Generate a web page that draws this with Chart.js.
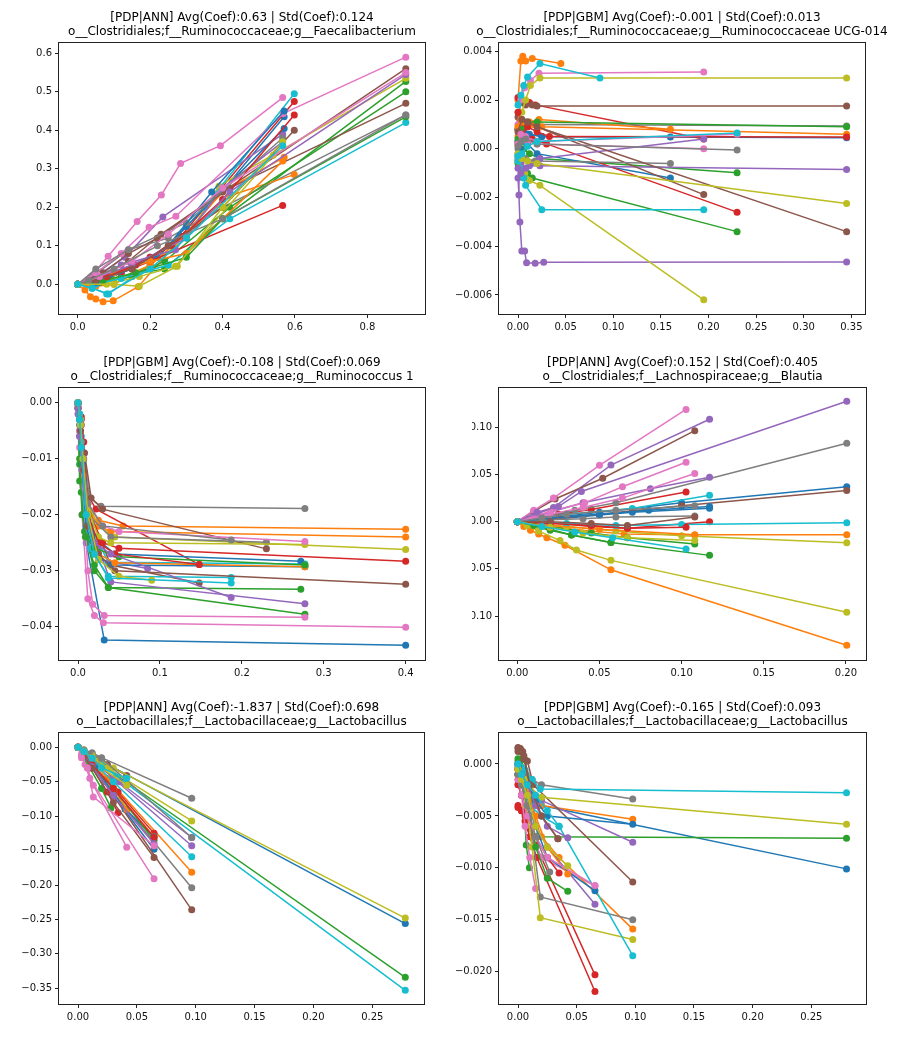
<!DOCTYPE html>
<html><head><meta charset="utf-8">
<script src="https://cdn.jsdelivr.net/npm/chart.js@4.4.0/dist/chart.umd.min.js"></script>
<style>
html,body{margin:0;padding:0;background:#fff;}
body{width:913px;height:1044px;position:relative;overflow:hidden;}
canvas{position:absolute;}
</style></head><body>
<canvas id="c1"></canvas><canvas id="c2"></canvas><canvas id="c3"></canvas>
<canvas id="c4"></canvas><canvas id="c5"></canvas><canvas id="c6"></canvas>
<script>
const palette = ['#1f77b4','#ff7f0e','#2ca02c','#d62728','#9467bd','#8c564b','#e377c2','#7f7f7f','#bcbd22','#17becf'];

// ---------- Panel 1: [PDP|ANN] Faecalibacterium ----------
const p1Title = ['[PDP|ANN] Avg(Coef):0.63 | Std(Coef):0.124', 'o__Clostridiales;f__Ruminococcaceae;g__Faecalibacterium'];
const p1X = [
 [0,0.03,0.09,0.2,0.3,0.57],[0,0.02,0.035,0.05,0.07,0.098,0.167,0.4,0.57],[0,0.05,0.12,0.24,0.4,0.906],[0,0.04,0.1,0.2,0.285,0.598],[0,0.05,0.13,0.235,0.566],
 [0,0.06,0.14,0.23,0.4,0.906],[0,0.05,0.084,0.164,0.231,0.284,0.394,0.566],[0,0.04,0.14,0.25,0.4,0.906],[0,0.1,0.2,0.3,0.39,0.906],[0,0.04,0.085,0.2,0.35,0.598],
 [0,0.04,0.12,0.22,0.3,0.57],[0,0.05,0.1,0.2,0.42,0.598],[0,0.06,0.15,0.24,0.42,0.906],[0,0.05,0.12,0.2,0.566],[0,0.04,0.12,0.27,0.4,0.566],
 [0,0.07,0.14,0.22,0.42,0.906],[0,0.05,0.12,0.197,0.271,0.568,0.906],[0,0.05,0.14,0.3,0.566],[0,0.08,0.17,0.27,0.54],[0,0.05,0.12,0.25,0.42,0.906],
 [0,0.05,0.15,0.25,0.37,0.57],[0,0.1,0.2,0.3,0.566],[0,0.07,0.16,0.3,0.4,0.906],[0,0.08,0.16,0.26,0.4,0.598],[0,0.06,0.15,0.3,0.42,0.906],
 [0,0.05,0.15,0.25,0.4,0.598],[0,0.06,0.15,0.25,0.4,0.906],[0,0.03,0.1,0.22,0.4,0.906],[0,0.1,0.17,0.275,0.4,0.566],[0,0.04,0.08,0.2,0.3,0.566]
];
const p1Y = [
 [0,0.004,0.02,0.07,0.13,0.435],[0,-0.015,-0.032,-0.038,-0.045,-0.043,-0.006,0.24,0.33],[0,0.005,0.02,0.04,0.17,0.527],[0,0.01,0.03,0.07,0.125,0.475],[0,0.02,0.07,0.175,0.39],
 [0,0.02,0.06,0.13,0.24,0.56],[0,0.035,0.073,0.163,0.232,0.314,0.36,0.485],[0,0.02,0.09,0.12,0.2,0.44],[0,0.01,0.05,0.12,0.255,0.535],[0,-0.01,-0.025,0.05,0.2,0.495],
 [0,0,0.03,0.07,0.15,0.405],[0,-0.005,0,0.05,0.23,0.285],[0,0.005,0.02,0.06,0.2,0.5],[0,0.01,0.03,0.06,0.205],[0,0.015,0.05,0.09,0.25,0.37],
 [0,0.03,0.08,0.12,0.25,0.47],[0,0.03,0.08,0.148,0.177,0.444,0.59],[0,0.04,0.09,0.16,0.38],[0,0,0.02,0.047,0.335],[0,0,0.015,0.05,0.17,0.42],
 [0,0.005,0.04,0.1,0.24,0.45],[0,0.03,0.06,0.08,0.32],[0,0.01,0.03,0.07,0.17,0.435],[0,0.02,0.05,0.1,0.22,0.44],[0,0.02,0.05,0.12,0.24,0.545],
 [0,0.01,0.04,0.1,0.2,0.4],[0,0.02,0.06,0.13,0.25,0.55],[0,0.01,0.04,0.1,0.17,0.44],[0,0,-0.005,0.047,0.2,0.37],[0,-0.01,-0.025,0.04,0.12,0.36]
];

// ---------- Panel 2: [PDP|GBM] Ruminococcaceae UCG-014 ----------
const p2Title = ['[PDP|GBM] Avg(Coef):-0.001 | Std(Coef):0.013', 'o__Clostridiales;f__Ruminococcaceae;g__Ruminococcaceae UCG-014'];
const p2X = [
 [0,0.002,0.006,0.012,0.025,0.16],[0,0.003,0.005,0.008,0.015,0.045],[0,0.003,0.006,0.012,0.023,0.23],[0,0.002,0.005,0.012,0.018,0.195],[0,0.001,0.002,0.004,0.007,0.009,0.018,0.027,0.345],
 [0,0.003,0.008,0.015,0.02,0.345],[0,0.003,0.007,0.013,0.022,0.195],[0,0.004,0.01,0.02,0.345],[0,0.004,0.008,0.013,0.023,0.345],[0,0.003,0.006,0.01,0.023,0.086],
 [0,0.002,0.005,0.01,0.02,0.16],[0,0.003,0.006,0.012,0.022,0.16],[0,0.002,0.005,0.01,0.015,0.23],[0,0.003,0.008,0.015,0.03,0.23],[0,0.003,0.008,0.012,0.023,0.345],
 [0,0.004,0.01,0.02,0.195],[0,0.004,0.01,0.02,0.195],[0,0.003,0.008,0.018,0.16],[0,0.003,0.007,0.012,0.023,0.195],[0,0.003,0.006,0.008,0.025,0.195],
 [0,0.004,0.01,0.025,0.345],[0,0.003,0.007,0.015,0.025,0.345],[0,0.004,0.01,0.02,0.345],[0,0.004,0.01,0.02,0.033,0.345],[0,0.003,0.008,0.013,0.023,0.195],
 [0,0.004,0.01,0.02,0.345],[0,0.003,0.008,0.02,0.23],[0,0.003,0.008,0.02,0.23],[0,0.004,0.01,0.02,0.345],[0,0.004,0.01,0.02,0.23]
];
const p2Y = [
 [0.0008,0.0012,0.0008,0.0006,0.0005,0.00048],[0.002,0.0036,0.0038,0.0036,0.0037,0.0035],[-0.0005,-0.0003,0,-0.0002,-0.0004,-0.00098],[0.0021,0.002,0.0019,0.0019,0.0018,0.0004],[-0.0012,-0.0019,-0.003,-0.0042,-0.0042,-0.00468,-0.0047,-0.00466,-0.00465],
 [0.0013,0.0019,0.0018,0.0018,0.00175,0.00175],[0.001,0.002,0.0025,0.0028,0.0031,0.00315],[0,0.0005,0.0009,0.001,0.00093],[0.0008,0.0015,0.002,0.0026,0.0029,0.0029],[0.0018,0.0022,0.0026,0.00295,0.0035,0.0029],
 [-0.0003,0,0.0003,0.0002,-0.0002,-0.0012],[0.0005,0.0008,0.001,0.0011,0.0012,0.0008],[-0.0006,-0.0008,-0.001,-0.001,-0.0012,-0.0034],[0.0015,0.0012,0.0006,0.0004,0.0002,-0.0026],[-0.0004,-0.0006,-0.0008,-0.0007,-0.0007,-0.00085],
 [0.0008,0.0012,0.001,0.0009,-0.00188],[0.0003,0.0005,0.0003,0.0002,0],[-0.0002,-0.0003,-0.0004,-0.0005,-0.0006],[-0.0005,-0.0008,-0.001,-0.0013,-0.0015,-0.0062],[-0.0005,-0.0008,-0.0012,-0.0015,-0.0025,-0.0025],
 [0.0003,0.0005,0.0006,0.0005,0.00045],[0.0009,0.0012,0.0011,0.001,0.0009,0.0006],[0.0004,0.0008,0.0011,0.0011,0.0009],[0.0002,0.0006,0.0009,0.0007,0.0005,0.00048],[-0.0008,-0.001,-0.0008,-0.0006,-0.0004,0.0004],
 [0.0007,0.0012,0.0011,0.0009,-0.0034],[0.0002,0.0006,0.0005,0.0003,0.0006],[0.0001,0.0003,0.0004,0.0002,-0.00005],[-0.0002,-0.0004,-0.0005,-0.0006,-0.00225],[-0.0003,-0.0002,0.0001,0.0003,0.00065]
];

// ---------- Panel 3: [PDP|GBM] Ruminococcus 1 ----------
const p3Title = ['[PDP|GBM] Avg(Coef):-0.108 | Std(Coef):0.069', 'o__Clostridiales;f__Ruminococcaceae;g__Ruminococcus 1'];
const p3X = [
 [0,0.002,0.005,0.01,0.032,0.4],[0,0.003,0.006,0.012,0.025,0.055,0.4],[0,0.002,0.005,0.009,0.02,0.037,0.272],[0,0.004,0.007,0.01,0.022,0.148],[0,0.002,0.006,0.012,0.025,0.04,0.277],
 [0,0.003,0.007,0.015,0.04,0.148],[0,0.002,0.005,0.012,0.02,0.031,0.4],[0,0.003,0.007,0.014,0.028,0.277],[0,0.003,0.006,0.012,0.025,0.045,0.4],[0,0.002,0.004,0.008,0.015,0.037,0.277],
 [0,0.002,0.005,0.01,0.02,0.045,0.272],[0,0.003,0.006,0.012,0.025,0.04,0.4],[0,0.002,0.004,0.008,0.02,0.037,0.277],[0,0.004,0.007,0.012,0.03,0.05,0.4],[0,0.002,0.005,0.012,0.025,0.085],
 [0,0.004,0.008,0.016,0.03,0.23],[0,0.002,0.006,0.012,0.018,0.032,0.277],[0,0.003,0.006,0.012,0.04,0.23],[0,0.003,0.006,0.012,0.025,0.04,0.277],[0,0.002,0.004,0.008,0.015,0.037,0.187],
 [0,0.002,0.005,0.01,0.02,0.04,0.277],[0,0.003,0.006,0.012,0.025,0.045,0.277],[0,0.002,0.005,0.01,0.02,0.05,0.277],[0,0.003,0.006,0.012,0.025,0.045,0.148],[0,0.002,0.005,0.01,0.02,0.04,0.187],
 [0,0.003,0.007,0.012,0.025,0.045,0.4],[0,0.003,0.006,0.012,0.03,0.05,0.277],[0,0.003,0.006,0.012,0.03,0.187],[0,0.003,0.006,0.012,0.025,0.05,0.09],[0,0.002,0.004,0.01,0.02,0.037,0.187]
];
const p3Y = [
 [0,-0.004,-0.012,-0.025,-0.0424,-0.0433],[-0.001,-0.005,-0.012,-0.018,-0.021,-0.022,-0.0226],[0,-0.011,-0.014,-0.024,-0.029,-0.033,-0.0333],[0,-0.0025,-0.009,-0.016,-0.019,-0.0289],[-0.001,-0.005,-0.01,-0.02,-0.026,-0.032,-0.0359],
 [-0.0005,-0.004,-0.01,-0.02,-0.029,-0.0322],[0,-0.008,-0.02,-0.035,-0.038,-0.0393,-0.0401],[0,-0.003,-0.009,-0.017,-0.0185,-0.0189],[0,-0.004,-0.01,-0.018,-0.022,-0.024,-0.0262],[0,-0.002,-0.006,-0.014,-0.022,-0.0285,-0.0288],
 [0,-0.003,-0.01,-0.018,-0.024,-0.027,-0.0283],[0,-0.006,-0.013,-0.019,-0.022,-0.023,-0.024],[-0.001,-0.014,-0.016,-0.023,-0.03,-0.033,-0.0378],[0,-0.003,-0.007,-0.019,-0.025,-0.026,-0.0283],[-0.002,-0.006,-0.009,-0.022,-0.028,-0.0296],
 [0,-0.004,-0.009,-0.017,-0.019,-0.0261],[0,-0.005,-0.015,-0.03,-0.036,-0.038,-0.0383],[0,-0.003,-0.01,-0.02,-0.024,-0.0249],[0,-0.003,-0.01,-0.019,-0.024,-0.025,-0.0253],[0,-0.002,-0.007,-0.02,-0.026,-0.031,-0.0312],
 [0,-0.003,-0.011,-0.022,-0.027,-0.029,-0.0293],[0,-0.004,-0.012,-0.022,-0.027,-0.0286,-0.0293],[0,-0.01,-0.02,-0.024,-0.026,-0.0275,-0.029],[0,-0.004,-0.01,-0.02,-0.025,-0.027,-0.0289],[-0.001,-0.006,-0.012,-0.02,-0.025,-0.027,-0.0348],
 [0,-0.005,-0.012,-0.022,-0.027,-0.03,-0.0324],[0,-0.004,-0.01,-0.018,-0.022,-0.023,-0.0248],[0,-0.004,-0.01,-0.018,-0.022,-0.0245],[0,-0.004,-0.01,-0.02,-0.028,-0.031,-0.0317],[0,-0.003,-0.008,-0.02,-0.027,-0.0313,-0.0322]
];

// ---------- Panel 4: [PDP|ANN] Blautia ----------
const p4Title = ['[PDP|ANN] Avg(Coef):0.152 | Std(Coef):0.405', 'o__Clostridiales;f__Lachnospiraceae;g__Blautia'];
const p4X = [
 [0,0.02,0.05,0.1,0.2005],[0,0.004,0.008,0.013,0.018,0.029,0.057,0.2005],[0,0.02,0.033,0.057,0.117],[0,0.01,0.025,0.045,0.1027],[0,0.012,0.022,0.057,0.117],
 [0,0.01,0.023,0.052,0.108],[0,0.01,0.022,0.05,0.1027],[0,0.015,0.035,0.06,0.2005],[0,0.006,0.013,0.026,0.036,0.057,0.2005],[0,0.015,0.03,0.07,0.117],
 [0,0.02,0.05,0.07,0.117],[0,0.02,0.045,0.065,0.108],[0,0.02,0.045,0.067,0.108],[0,0.02,0.045,0.067,0.117],[0,0.02,0.04,0.081,0.117],
 [0,0.02,0.05,0.1,0.2005],[0,0.02,0.041,0.064,0.1027],[0,0.02,0.04,0.06,0.108],[0,0.03,0.06,0.1,0.2005],[0,0.03,0.06,0.1,0.2005],
 [0,0.02,0.05,0.08,0.117],[0,0.02,0.05,0.108,0.2005],[0,0.01,0.02,0.033,0.057],[0,0.02,0.045,0.067,0.1027],[0,0.012,0.025,0.039,0.2005],
 [0,0.02,0.045,0.067,0.108],[0,0.02,0.04,0.064,0.108],[0,0.015,0.03,0.06,0.108],[0,0.02,0.04,0.067,0.108],[0,0.015,0.035,0.058,0.1027]
];
const p4Y = [
 [0,0.004,0.01,0.02,0.037],[0,-0.005,-0.009,-0.013,-0.017,-0.025,-0.051,-0.131],[0,-0.009,-0.014,-0.022,-0.0357],[0,0.003,0.008,0.013,0.0315],[0,0.008,0.015,0.06,0.1086],
 [0,0.011,0.024,0.046,0.0965],[0,0.012,0.025,0.0598,0.119],[0,0.005,0.012,0.02,0.0831],[0,-0.004,-0.01,-0.02,-0.03,-0.041,-0.0961],[0,0.004,0.008,0.014,0.028],
 [0,0.002,0.007,0.01,0.0142],[0,-0.005,-0.01,-0.013,-0.014],[0,-0.005,-0.012,-0.017,-0.0237],[0,-0.001,-0.005,-0.007,0],[0,0.01,0.02,0.035,0.047],
 [0,0.003,0.008,0.017,0.033],[0,0.011,0.02,0.037,0.063],[0,0.002,0.003,0.005,0.006],[0,-0.005,-0.01,-0.015,-0.0223],[0,-0.002,-0.004,-0.003,-0.001],
 [0,0.004,0.008,0.012,0.016],[0,-0.004,-0.008,-0.0138,-0.0138],[0,-0.004,-0.008,-0.014,-0.022],[0,-0.002,-0.004,-0.007,-0.006],[0,0.01,0.016,0.032,0.1277],
 [0,0,-0.002,-0.004,0.005],[0,0.008,0.015,0.025,0.051],[0,0.004,0.008,0.012,0.017],[0,-0.006,-0.012,-0.017,-0.02],[0,-0.005,-0.011,-0.017,-0.029]
];

// ---------- Panel 5: [PDP|ANN] Lactobacillus ----------
const p5Title = ['[PDP|ANN] Avg(Coef):-1.837 | Std(Coef):0.698', 'o__Lactobacillales;f__Lactobacillaceae;g__Lactobacillus'];
const p5X = [
 [0,0.005,0.012,0.02,0.278],[0,0.005,0.012,0.025,0.0966],[0,0.005,0.012,0.02,0.278],[0,0.005,0.012,0.034,0.0646],[0,0.006,0.015,0.03,0.0966],
 [0,0.005,0.012,0.025,0.0414],[0,0.003,0.006,0.01,0.0646],[0,0.005,0.012,0.02,0.0966],[0,0.005,0.012,0.03,0.278],[0,0.005,0.012,0.02,0.278],
 [0,0.005,0.012,0.03,0.0646],[0,0.005,0.012,0.03,0.0646],[0,0.004,0.01,0.02,0.028],[0,0.005,0.012,0.025,0.034],[0,0.006,0.015,0.035,0.0966],
 [0,0.005,0.012,0.03,0.0966],[0,0.003,0.008,0.013,0.0414],[0,0.005,0.012,0.022,0.0966],[0,0.005,0.012,0.025,0.0966],[0,0.005,0.012,0.03,0.0966],
 [0,0.005,0.015,0.04,0.0646],[0,0.005,0.012,0.03,0.0414],[0,0.005,0.012,0.03,0.0646],[0,0.005,0.012,0.03,0.0646],[0,0.005,0.012,0.03,0.0646],
 [0,0.005,0.012,0.03,0.0646],[0,0.003,0.008,0.013,0.0646],[0,0.005,0.01,0.02,0.0966],[0,0.005,0.012,0.02,0.0414],[0,0.005,0.012,0.02,0.0414]
];
const p5Y = [
 [0,-0.005,-0.012,-0.02,-0.256],[0,-0.008,-0.02,-0.045,-0.1816],[0,-0.005,-0.015,-0.025,-0.334],[0,-0.01,-0.025,-0.065,-0.125],[0,-0.008,-0.02,-0.045,-0.143],
 [0,-0.004,-0.01,-0.025,-0.041],[0,-0.01,-0.025,-0.045,-0.191],[0,-0.004,-0.008,-0.015,-0.074],[0,-0.005,-0.012,-0.03,-0.248],[0,-0.006,-0.016,-0.026,-0.353],
 [0,-0.01,-0.022,-0.07,-0.148],[0,-0.01,-0.024,-0.06,-0.13],[0,-0.012,-0.03,-0.06,-0.088],[0,-0.012,-0.03,-0.065,-0.095],[0,-0.01,-0.025,-0.05,-0.131],
 [0,-0.01,-0.025,-0.07,-0.236],[0,-0.012,-0.03,-0.055,-0.145],[0,-0.008,-0.02,-0.05,-0.204],[0,-0.006,-0.014,-0.03,-0.107],[0,-0.008,-0.02,-0.05,-0.159],
 [0,-0.01,-0.03,-0.09,-0.13],[0,-0.01,-0.025,-0.06,-0.09],[0,-0.01,-0.025,-0.06,-0.135],[0,-0.01,-0.025,-0.06,-0.131],[0,-0.01,-0.028,-0.07,-0.14],
 [0,-0.012,-0.03,-0.08,-0.16],[0,-0.015,-0.03,-0.072,-0.143],[0,-0.005,-0.01,-0.016,-0.131],[0,-0.006,-0.015,-0.03,-0.055],[0,-0.006,-0.016,-0.03,-0.045]
];

// ---------- Panel 6: [PDP|GBM] Lactobacillus ----------
const p6Title = ['[PDP|GBM] Avg(Coef):-0.165 | Std(Coef):0.093', 'o__Lactobacillales;f__Lactobacillaceae;g__Lactobacillus'];
const p6X = [
 [0,0.003,0.007,0.012,0.02,0.28],[0,0.003,0.008,0.013,0.02,0.0978],[0,0.003,0.006,0.01,0.017,0.28],[0,0.003,0.006,0.01,0.015,0.0656],[0,0.003,0.007,0.012,0.02,0.0978],
 [0,0.002,0.004,0.008,0.013,0.0978],[0,0.003,0.007,0.012,0.02,0.0656],[0,0.003,0.007,0.012,0.02,0.0978],[0,0.003,0.006,0.01,0.02,0.28],[0,0.003,0.006,0.012,0.019,0.28],
 [0,0.003,0.008,0.015,0.025,0.0978],[0,0.004,0.01,0.02,0.035,0.0978],[0,0.002,0.004,0.007,0.0097],[0,0.003,0.006,0.01,0.016,0.0656],[0,0.003,0.008,0.015,0.025,0.0656],
 [0,0.002,0.005,0.01,0.02,0.034],[0,0.003,0.006,0.01,0.015],[0,0.004,0.01,0.019,0.0978],[0,0.003,0.007,0.012,0.019,0.0978],[0,0.004,0.01,0.02,0.035,0.0978],
 [0,0.003,0.008,0.015,0.025,0.0656],[0,0.003,0.008,0.015,0.025,0.0424],[0,0.003,0.008,0.015,0.025,0.0424],[0,0.003,0.008,0.015,0.025,0.035],[0,0.003,0.008,0.015,0.025,0.0424],
 [0,0.002,0.005,0.01,0.02,0.034],[0,0.003,0.008,0.015,0.025,0.0656],[0,0.003,0.008,0.015,0.027],[0,0.003,0.008,0.015,0.025,0.0424],[0,0.003,0.008,0.015,0.025,0.035]
];
const p6Y = [
 [-0.0005,-0.001,-0.002,-0.003,-0.004,-0.0101],[-0.0005,-0.001,-0.0025,-0.0035,-0.004,-0.00533],[0.0003,0.0005,0.0004,-0.002,-0.007,-0.00716],[-0.004,-0.0045,-0.005,-0.0062,-0.0078,-0.0203],[-0.001,-0.0015,-0.002,-0.0028,-0.0035,-0.00754],
 [0.0012,0.0015,0.0012,0.0003,-0.002,-0.01136],[-0.002,-0.003,-0.005,-0.007,-0.009,-0.01175],[0,-0.0005,-0.001,-0.0015,-0.002,-0.00337],[-0.0005,-0.001,-0.0015,-0.0022,-0.0032,-0.0058],[0,-0.0003,-0.0006,-0.0015,-0.0024,-0.00276],
 [0,-0.001,-0.002,-0.0035,-0.005,-0.0058],[-0.001,-0.002,-0.004,-0.007,-0.009,-0.0159],[0.0005,0.0003,-0.002,-0.0078,-0.01],[-0.0042,-0.0045,-0.0055,-0.007,-0.009,-0.0219],[-0.001,-0.002,-0.004,-0.006,-0.008,-0.0135],
 [0.0015,0.0012,0.0005,-0.002,-0.005,-0.0072],[-0.0015,-0.003,-0.006,-0.009,-0.012],[-0.0005,-0.002,-0.005,-0.0128,-0.015],[-0.001,-0.002,-0.004,-0.008,-0.0148,-0.0169],[-0.001,-0.002,-0.004,-0.005,-0.006,-0.01846],
 [-0.0003,-0.001,-0.003,-0.006,-0.009,-0.0122],[-0.0005,-0.0015,-0.003,-0.005,-0.008,-0.0106],[-0.001,-0.002,-0.004,-0.008,-0.011,-0.01226],[-0.002,-0.003,-0.005,-0.007,-0.009,-0.0105],[0,-0.001,-0.002,-0.004,-0.006,-0.0071],
 [0.0016,0.0014,0.0008,-0.002,-0.005,-0.0072],[-0.0015,-0.003,-0.005,-0.007,-0.009,-0.0117],[-0.001,-0.002,-0.004,-0.007,-0.0104],[-0.0005,-0.0015,-0.003,-0.006,-0.008,-0.0098],[0,-0.001,-0.002,-0.003,-0.0045,-0.006]
];

// ---------- Axis ranges and tick settings ----------
const axes = [
 {xMin:-0.0517, xMax:0.959, yMin:-0.0771, yMax:0.6268, xStep:0.2, yStep:0.1, xDec:1, yDec:1},
 {xMin:-0.01995, xMax:0.3643, yMin:-0.00678, yMax:0.00434, xStep:0.05, yStep:0.002, xDec:2, yDec:3},
 {xMin:-0.0232, xMax:0.4236, yMin:-0.04595, yMax:0.00263, xStep:0.1, yStep:0.01, xDec:1, yDec:2},
 {xMin:-0.01113, xMax:0.2122, yMin:-0.1466, yMax:0.1417, xStep:0.05, yStep:0.05, xDec:2, yDec:2},
 {xMin:-0.01614, xMax:0.2939, yMin:-0.3728, yMax:0.02077, xStep:0.05, yStep:0.05, xDec:2, yDec:2},
 {xMin:-0.0162, xMax:0.2966, yMin:-0.02311, yMax:0.002985, xStep:0.05, yStep:0.005, xDec:2, yDec:3}
];

// ---------- Layout (canvas rect, plot rect) ----------
const layouts = [
 {cx:0,   cy:0,   cw:456, ch:345, L:59,  T:43,  R:425, B:314},
 {cx:456, cy:0,   cw:457, ch:345, L:499, T:43,  R:865, B:314},
 {cx:0,   cy:345, cw:456, ch:345, L:59,  T:388, R:425, B:660},
 {cx:472, cy:345, cw:441, ch:345, L:499, T:388, R:866, B:660},
 {cx:0,   cy:690, cw:456, ch:354, L:59,  T:733, R:424, B:1004},
 {cx:456, cy:690, cw:457, ch:354, L:499, T:733, R:866, B:1004}
];

const panels = [
 {title:p1Title, xs:p1X, ys:p1Y},
 {title:p2Title, xs:p2X, ys:p2Y},
 {title:p3Title, xs:p3X, ys:p3Y},
 {title:p4Title, xs:p4X, ys:p4Y},
 {title:p5Title, xs:p5X, ys:p5Y},
 {title:p6Title, xs:p6X, ys:p6Y}
];

Chart.defaults.font.family = "'DejaVu Sans', sans-serif";
Chart.defaults.color = '#111';

function fmt(v, dec) {
  if (Math.abs(v) < 1e-12) v = 0;
  return v.toFixed(dec).replace('-', '\u2212');
}

function makeDatasets(xs, ys) {
  return xs.map((xa, i) => ({
    data: xa.map((x, j) => ({x: x, y: ys[i][j]})),
    showLine: true,
    borderColor: palette[i % 10],
    backgroundColor: palette[i % 10],
    borderWidth: 1.5,
    pointRadius: 3.5,
    pointHoverRadius: 3.5,
    pointBorderWidth: 0,
    tension: 0,
    order: -i
  }));
}

const framePlugin = {
  id: 'frame',
  afterDraw(chart) {
    const {ctx, chartArea: a} = chart;
    ctx.save();
    ctx.strokeStyle = '#222';
    ctx.lineWidth = 1;
    ctx.strokeRect(a.left - 0.5, a.top - 0.5, a.right - a.left + 1, a.bottom - a.top + 1);
    ctx.restore();
  }
};

panels.forEach((p, k) => {
  const lay = layouts[k], ax = axes[k];
  const cv = document.getElementById('c' + (k + 1));
  cv.width = lay.cw; cv.height = lay.ch;
  cv.style.left = lay.cx + 'px'; cv.style.top = lay.cy + 'px';
  cv.style.width = lay.cw + 'px'; cv.style.height = lay.ch + 'px';
  const titlePlugin = {
    id: 'twoLineTitle',
    afterDraw(chart) {
      const ctx = chart.ctx;
      const a = chart.chartArea;
      ctx.save();
      ctx.fillStyle = '#000';
      ctx.font = "12px 'DejaVu Sans', sans-serif";
      ctx.textAlign = 'center';
      ctx.textBaseline = 'middle';
      const cxm = (a.left + a.right) / 2;
      ctx.fillText(p.title[0], cxm, 18.3);
      ctx.fillText(p.title[1], cxm, 32);
      ctx.restore();
    }
  };
  new Chart(cv, {
    type: 'scatter',
    data: {datasets: makeDatasets(p.xs, p.ys)},
    options: {
      responsive: false,
      animation: false,
      devicePixelRatio: 1,
      layout: {padding: {left: 0, top: lay.T - lay.cy, right: lay.cx + lay.cw - lay.R, bottom: 0}},
      plugins: {legend: {display: false}, tooltip: {enabled: false}, title: {display: false}},
      events: [],
      scales: {
        x: {
          type: 'linear', position: 'bottom', min: ax.xMin, max: ax.xMax,
          afterFit: s => { s.height = lay.cy + lay.ch - lay.B; },
          ticks: {stepSize: ax.xStep, includeBounds: false, autoSkip: false, maxRotation: 0, minRotation: 0,
                  padding: 3, color: '#111', font: {size: 10}, callback: v => fmt(v, ax.xDec)},
          grid: {display: true, drawOnChartArea: false, drawTicks: true, tickLength: 4, color: '#222'},
          border: {display: false}
        },
        y: {
          type: 'linear', position: 'left', min: ax.yMin, max: ax.yMax,
          afterFit: s => { s.width = lay.L - lay.cx; },
          ticks: {stepSize: ax.yStep, includeBounds: false, autoSkip: false,
                  padding: 3, color: '#111', font: {size: 10}, callback: v => fmt(v, ax.yDec)},
          grid: {display: true, drawOnChartArea: false, drawTicks: true, tickLength: 4, color: '#222'},
          border: {display: false}
        }
      }
    },
    plugins: [framePlugin, titlePlugin]
  });
});
</script>
</body></html>
